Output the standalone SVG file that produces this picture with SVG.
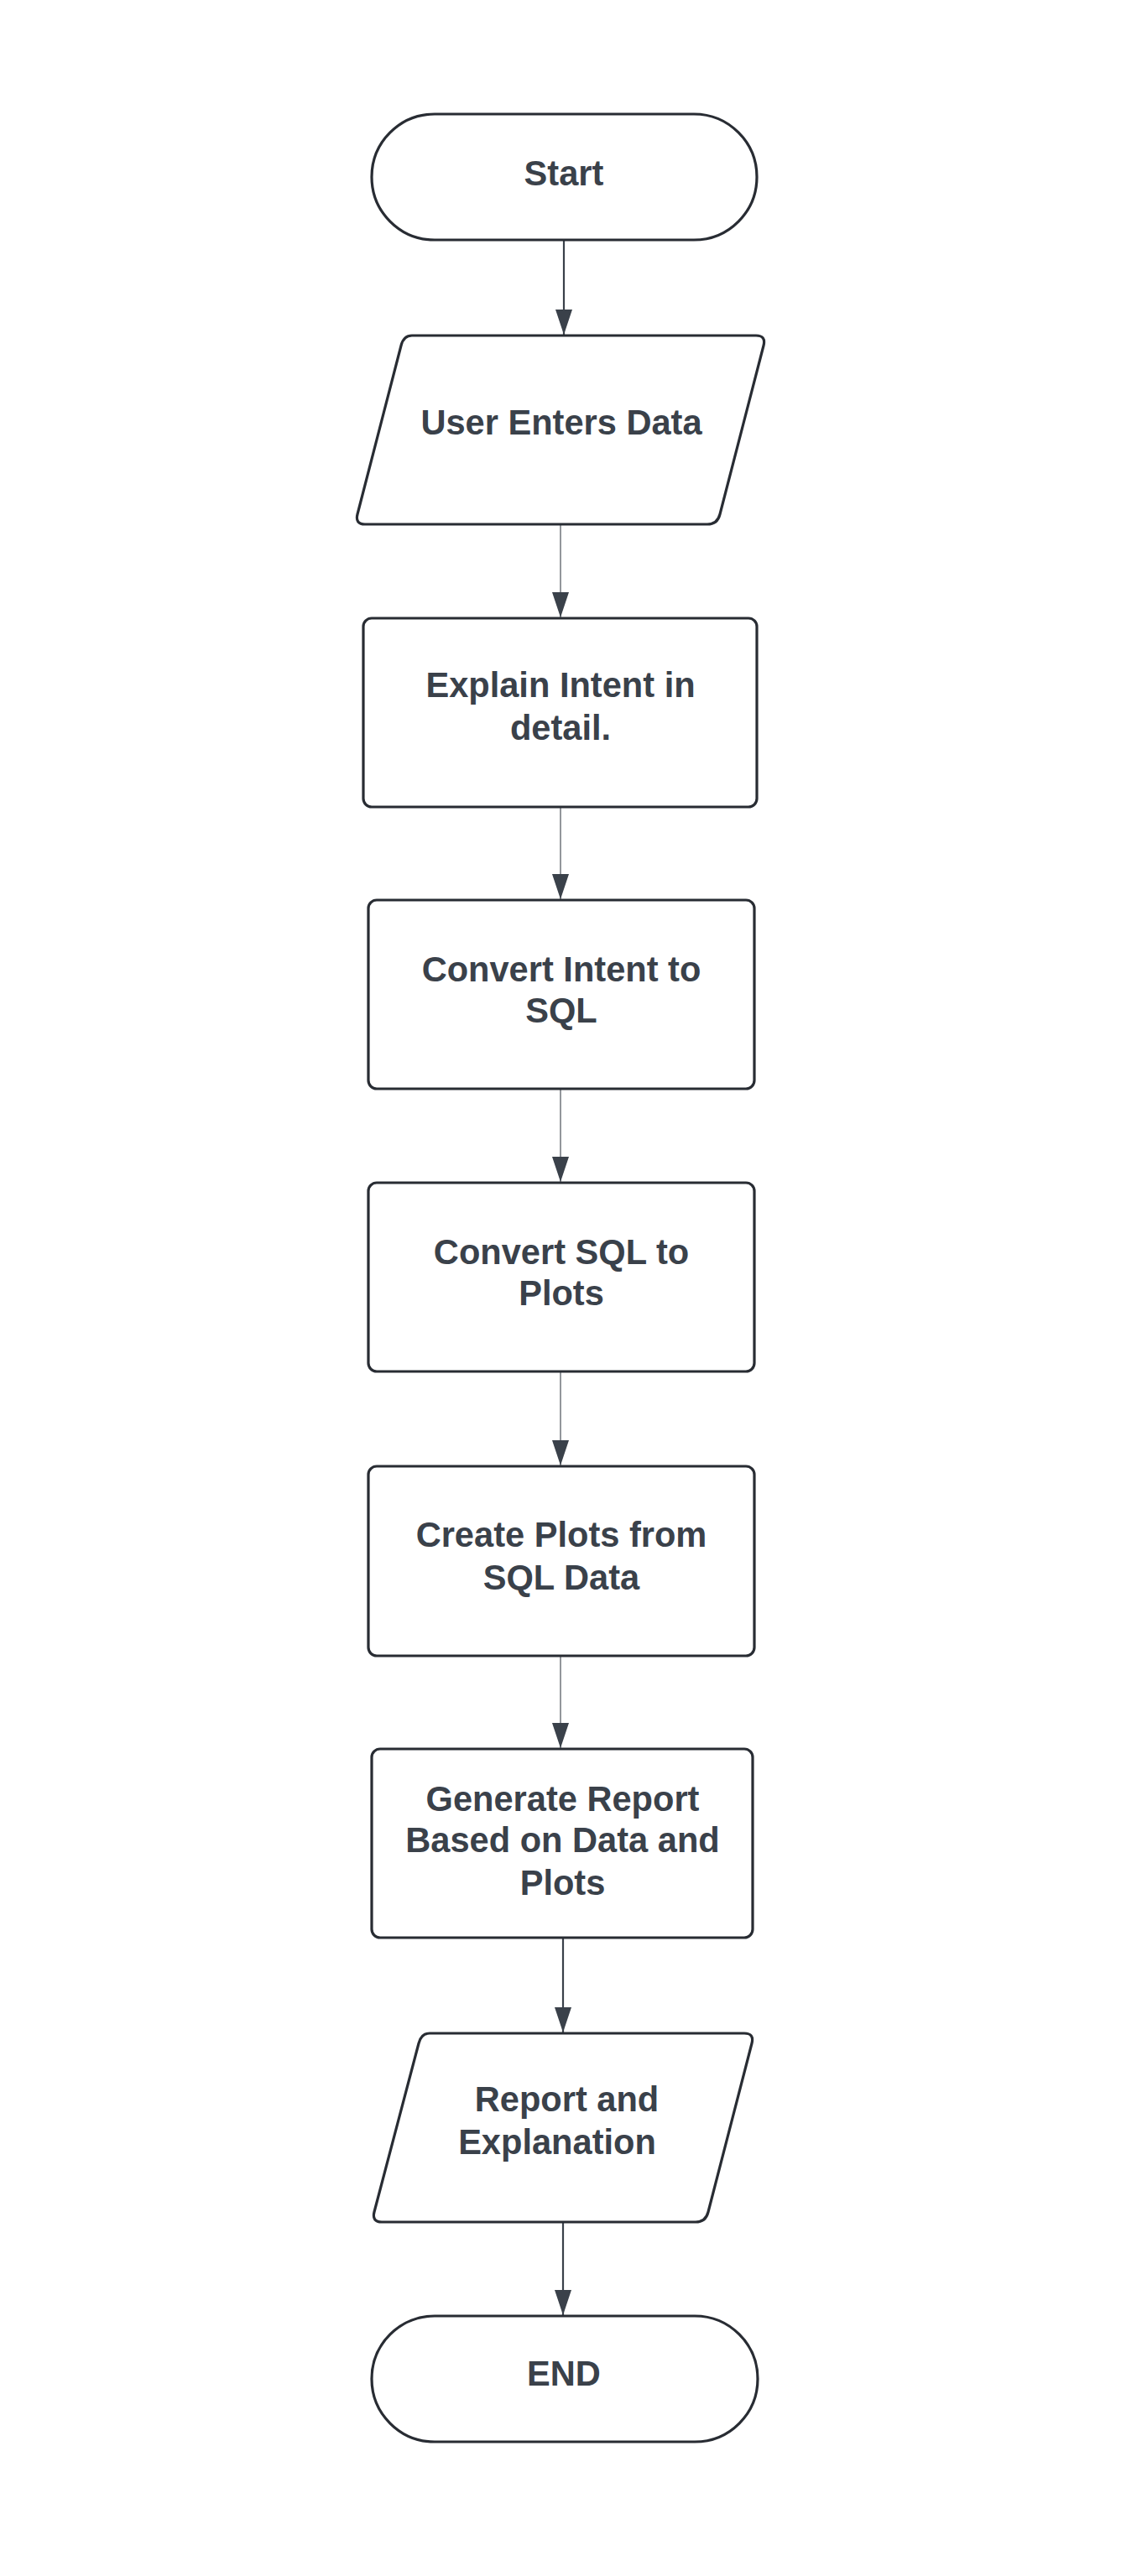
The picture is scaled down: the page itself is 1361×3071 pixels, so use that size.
<svg xmlns="http://www.w3.org/2000/svg" width="1361" height="3071" viewBox="0 0 1361 3071">
<defs>
<style>
.shape{fill:#ffffff;stroke:#282c33;stroke-width:3.2;stroke-linejoin:round}
.lbl{font-family:"Liberation Sans",Arial,sans-serif;font-weight:bold;font-size:41.6px;fill:#3a414a;text-anchor:middle}
.conn{fill:none;stroke:#3a414a}
.thick{stroke-width:2.2}
.thin{stroke-width:1.1}
</style>
<marker id="arrow" markerUnits="userSpaceOnUse" markerWidth="30" markerHeight="20" viewBox="0 0 30 20" refX="30" refY="10" orient="auto">
<path d="M0,0 L30,10 L0,20 Z" fill="#3a414a"/>
</marker>
</defs>
<rect width="1361" height="3071" fill="#ffffff"/>
<g id="connectors">
<path class="conn thick" d="M672,286 L672,399" marker-end="url(#arrow)"/>
<path class="conn thin" d="M668,625 L668,736" marker-end="url(#arrow)"/>
<path class="conn thin" d="M668,962 L668,1072" marker-end="url(#arrow)"/>
<path class="conn thin" d="M668,1298 L668,1409" marker-end="url(#arrow)"/>
<path class="conn thin" d="M668,1635 L668,1747" marker-end="url(#arrow)"/>
<path class="conn thin" d="M668,1974 L668,2084" marker-end="url(#arrow)"/>
<path class="conn thick" d="M671,2310 L671,2423" marker-end="url(#arrow)"/>
<path class="conn thick" d="M671,2649 L671,2760" marker-end="url(#arrow)"/>
</g>
<g id="node-start">
<rect class="shape" x="443" y="136" width="459" height="150" rx="75" ry="75"/>
<text class="lbl" x="672" y="221">Start</text>
</g>
<g id="node-user-enters-data">
<path class="shape" d="M491,400 L901,400 Q913,400 910,412 L858,613 Q855,625 843,625 L435,625 Q423,625 426,613 L478,412 Q481,400 491,400 Z"/>
<text class="lbl" x="669" y="518">User Enters Data</text>
</g>
<g id="node-explain-intent">
<rect class="shape" x="433" y="737" width="469" height="225" rx="10" ry="10"/>
<text class="lbl" x="668" y="831">Explain Intent in</text>
<text class="lbl" x="668" y="882">detail.</text>
</g>
<g id="node-convert-intent-sql">
<rect class="shape" x="439" y="1073" width="460" height="225" rx="10" ry="10"/>
<text class="lbl" x="669" y="1170">Convert Intent to</text>
<text class="lbl" x="669" y="1219">SQL</text>
</g>
<g id="node-convert-sql-plots">
<rect class="shape" x="439" y="1410" width="460" height="225" rx="10" ry="10"/>
<text class="lbl" x="669" y="1507">Convert SQL to</text>
<text class="lbl" x="669" y="1556">Plots</text>
</g>
<g id="node-create-plots">
<rect class="shape" x="439" y="1748" width="460" height="226" rx="10" ry="10"/>
<text class="lbl" x="669" y="1844">Create Plots from</text>
<text class="lbl" x="669" y="1895">SQL Data</text>
</g>
<g id="node-generate-report">
<rect class="shape" x="443" y="2085" width="454" height="225" rx="10" ry="10"/>
<text class="lbl" x="670.5" y="2159">Generate Report</text>
<text class="lbl" x="670.5" y="2208">Based on Data and</text>
<text class="lbl" x="670.5" y="2259">Plots</text>
</g>
<g id="node-report-explanation">
<path class="shape" d="M512,2424 L887,2424 Q899,2424 896,2436 L844,2637 Q841,2649 829,2649 L455,2649 Q443,2649 446,2637 L499,2436 Q502,2424 512,2424 Z"/>
<text class="lbl" x="675.5" y="2517">Report and</text>
<text class="lbl" x="664" y="2568">Explanation</text>
</g>
<g id="node-end">
<rect class="shape" x="443" y="2761" width="460" height="150" rx="75" ry="75"/>
<text class="lbl" x="672" y="2844">END</text>
</g>
</svg>
